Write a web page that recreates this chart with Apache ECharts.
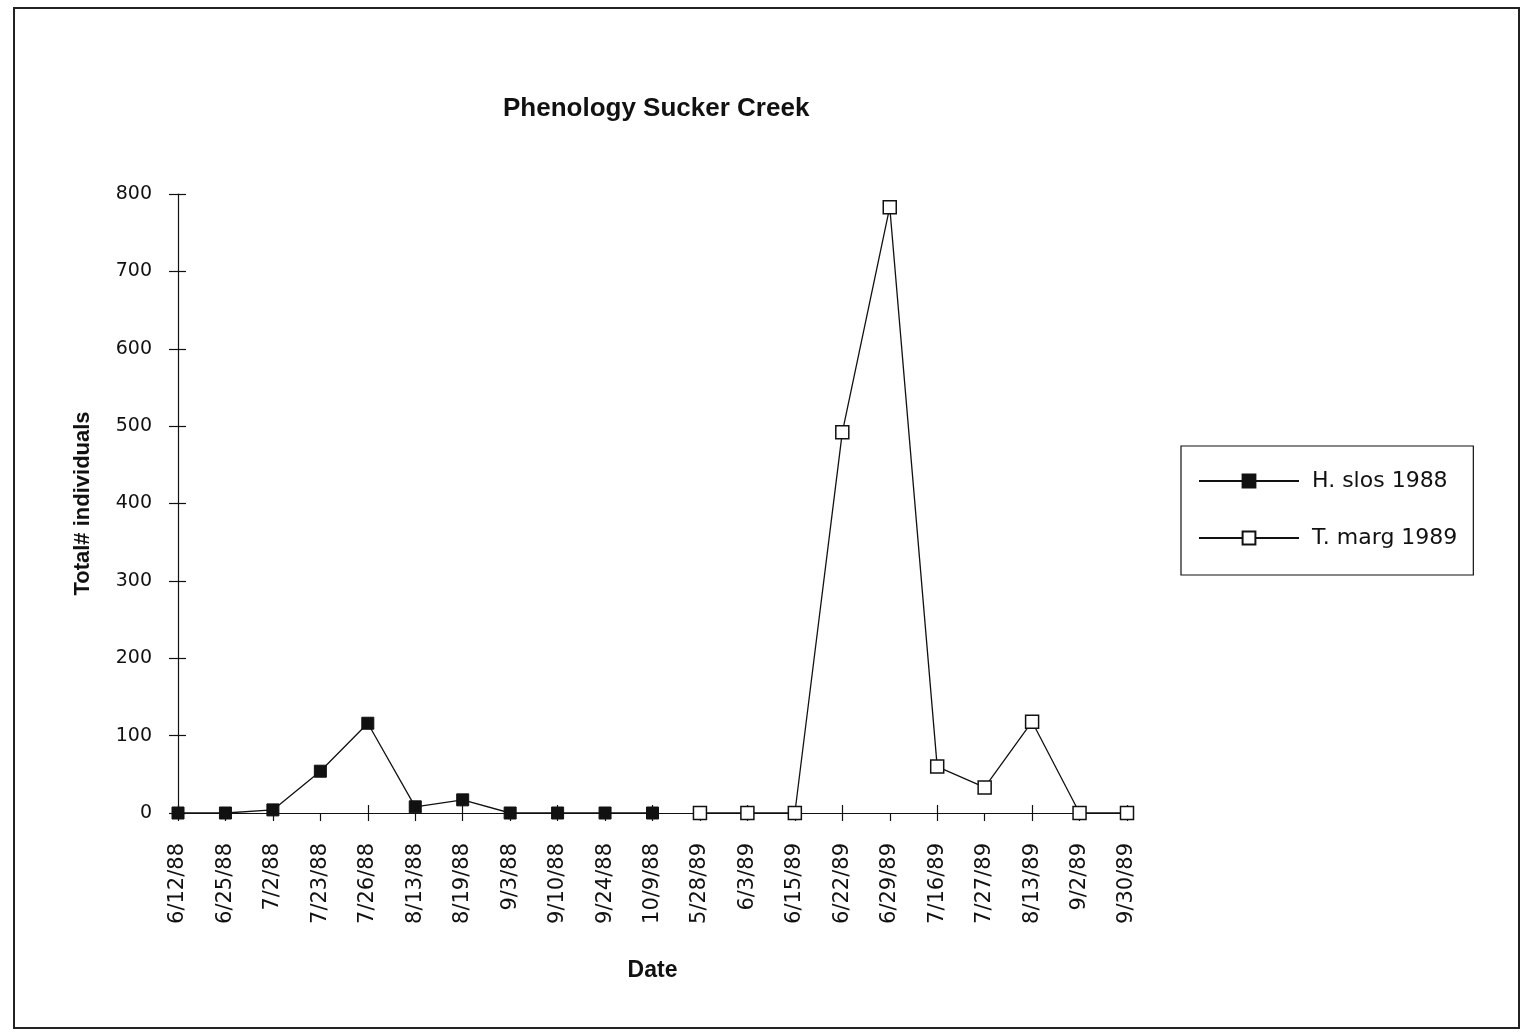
<!DOCTYPE html>
<html>
<head>
<meta charset="utf-8">
<title>Phenology Sucker Creek</title>
<script src="https://cdn.jsdelivr.net/npm/echarts@6/dist/echarts.min.js"></script>
<style>
  html, body { margin: 0; padding: 0; background: #fff; }
  #chart { width: 1523px; height: 1034px; }
</style>
</head>
<body>
<div id="chart"></div>
<script>
// sampling dates (category axis), 1988 run then 1989 run
const dates = [
  '6/12/88', '6/25/88', '7/2/88', '7/23/88', '7/26/88', '8/13/88', '8/19/88',
  '9/3/88', '9/10/88', '9/24/88', '10/9/88',
  '5/28/89', '6/3/89', '6/15/89', '6/22/89', '6/29/89', '7/16/89', '7/27/89',
  '8/13/89', '9/2/89', '9/30/89'
];
// total individuals per date
const hSlos1988 = [0, 0, 4, 54, 116, 8, 17, 0, 0, 0, 0];
const tMarg1989 = [0, 0, 0, 492, 783, 60, 33, 118, 0, 0];

// bold headings look like Helvetica, the wide tick text fits DejaVu better
const FONT = '"Liberation Sans", Arial, Helvetica, sans-serif';
const WIDE = '"DejaVu Sans", "Liberation Sans", sans-serif';
const INK = '#111';

// pad each series with nulls so both share the full date axis
function alignToDates(values, offset) {
  const out = dates.map(() => null);
  values.forEach((v, i) => { out[offset + i] = v; });
  return out;
}

// a second, label-less copy of an axis drawing ticks on the inner side,
// so the ticks cross the axis line like in the original
function innerTickCopy(axis) {
  return {
    ...axis,
    name: '',
    axisLine: { show: false },
    axisLabel: { show: false },
    axisTick: { show: true, inside: true, length: 8, lineStyle: { color: INK, width: 1.2 } },
    splitLine: { show: false }
  };
}

const xBase = {
  type: 'category',
  data: dates,
  boundaryGap: false,
  position: 'bottom'
};
const yBase = {
  type: 'value',
  min: 0,
  max: 800,
  interval: 100,
  position: 'left'
};

const option = {
  animation: false,
  backgroundColor: '#fff',
  title: {
    text: 'Phenology Sucker Creek',
    left: 498,
    top: 91,
    textStyle: { fontFamily: FONT, fontSize: 26, fontWeight: 'bold', color: INK }
  },
  grid: { left: 178, right: 396, top: 194, bottom: 221 },
  legend: {
    orient: 'vertical',
    left: 1181,
    top: 446,
    padding: [24, 16, 26, 17],
    itemWidth: 100,
    itemHeight: 16,
    itemGap: 35,
    borderColor: INK,
    borderWidth: 1.2,
    textStyle: { fontFamily: WIDE, fontSize: 22, color: INK, padding: [0, 0, 0, 8] },
    data: ['H. slos 1988', 'T. marg 1989']
  },
  xAxis: [
    {
      ...xBase,
      name: 'Date',
      nameLocation: 'middle',
      nameGap: 146,
      nameTextStyle: { fontFamily: FONT, fontSize: 23, fontWeight: 'bold', color: INK },
      axisLine: { show: true, lineStyle: { color: INK, width: 1.2 } },
      axisTick: { show: true, length: 8, lineStyle: { color: INK, width: 1.2 } },
      axisLabel: {
        rotate: 90,
        margin: 30,
        interval: 0,
        fontFamily: WIDE,
        fontSize: 21,
        color: INK
      },
      splitLine: { show: false }
    },
    innerTickCopy(xBase)
  ],
  yAxis: [
    {
      ...yBase,
      name: 'Total# individuals',
      nameLocation: 'middle',
      nameGap: 84,
      nameTextStyle: { fontFamily: FONT, fontSize: 22, fontWeight: 'bold', color: INK },
      axisLine: { show: true, lineStyle: { color: INK, width: 1.2 } },
      axisTick: { show: true, length: 9, lineStyle: { color: INK, width: 1.2 } },
      axisLabel: { margin: 26, fontFamily: WIDE, fontSize: 19, color: INK },
      splitLine: { show: false }
    },
    innerTickCopy(yBase)
  ],
  series: [
    {
      name: 'H. slos 1988',
      type: 'line',
      data: alignToDates(hSlos1988, 0),
      symbol: 'rect',
      symbolSize: 12,
      showAllSymbol: true,
      z: 5,
      lineStyle: { color: INK, width: 1.3 },
      itemStyle: { color: INK, borderColor: INK, borderWidth: 1 }
    },
    {
      name: 'T. marg 1989',
      type: 'line',
      data: alignToDates(tMarg1989, hSlos1988.length),
      symbol: 'rect',
      symbolSize: 13,
      showAllSymbol: true,
      z: 5,
      lineStyle: { color: INK, width: 1.3 },
      itemStyle: { color: '#fff', borderColor: INK, borderWidth: 1.5 }
    }
  ],
  // page frame of the scanned figure
  graphic: [
    {
      type: 'rect',
      shape: { x: 14, y: 8, width: 1505, height: 1020 },
      style: { fill: null, stroke: '#222', lineWidth: 2 },
      silent: true
    }
  ]
};

const chart = echarts.init(document.getElementById('chart'));
chart.setOption(option);
</script>
</body>
</html>
